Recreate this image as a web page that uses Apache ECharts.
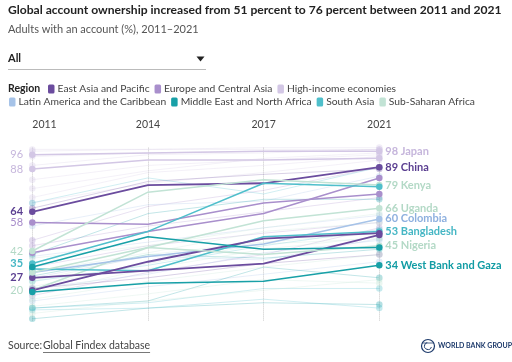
<!DOCTYPE html>
<html><head><meta charset="utf-8">
<script src="https://cdn.jsdelivr.net/npm/echarts@6/dist/echarts.min.js"></script>
<style>html,body{margin:0;padding:0;background:#fff}#c{width:512px;height:362px}</style>
</head><body><div id="c"></div>
<script>
const FONT = 'Lato';
const years = ['2011', '2014', '2017', '2021'];
const regions = ['East Asia and Pacific', 'Europe and Central Asia', 'High-income economies',
  'Latin America and the Caribbean', 'Middle East and North Africa', 'South Asia', 'Sub-Saharan Africa'];
const regionColors = ['#6b4c9e', '#a98fcc', '#d3c7e5', '#a6c3e8', '#18a0a7', '#4fbfcb', '#c2e3d5'];

// Highlighted economies
const hlNames = ['Japan', 'United States', 'China', 'Ukraine', 'Turkey', 'Kenya', 'India', 'Uganda',
  'Colombia', 'Bangladesh', 'Indonesia', 'Philippines', 'Nigeria', 'Algeria', 'West Bank and Gaza'];
const hlRegion = [2, 2, 0, 1, 1, 6, 5, 6, 3, 5, 0, 0, 6, 4, 4];
const hlValues = [
  [96, 97, 98, 98],
  [88, 93, 93, 94],
  [64, 79, 80, 89],
  [41, 53, 63, 83],
  [58, 57, 69, 74],
  [42, 75, 82, 79],
  [35, 53, 80, 78],
  [20, 44, 59, 66],
  [30, 39, 46, 60],
  [32, 31, 50, 53],
  [20, 36, 49, 52],
  [27, 31, 35, 51],
  [30, 44, 40, 45],
  [33, 50, 43, 44],
  [19, 24, 25, 34]
];
const hlStartLabel = [true, true, true, false, true, true, true, true, false, false, false, true, false, false, false];
const hlEndLabel = [true, false, true, false, false, true, false, true, true, true, false, false, true, false, true];
const hlLabelColors = ['#c6b6dc', '#c6b6dc', '#5b3f91', '#a98fcc', '#a68bc9', '#b3d9c6', '#45b6c4', '#b3d9c6',
  '#8eb0df', '#45b6c4', '#5b3f91', '#5b3f91', '#b3d9c6', '#18a0a7', '#129ca4'];
const hlBold = [false, false, true, false, false, false, true, false, true, true, false, true, false, false, true];

// Background economies (faint)
const bgRegion = [2, 2, 2, 2, 2, 2, 2, 2, 1, 1, 1, 1, 3, 3, 3, 3, 3, 0, 0, 4, 4, 4, 4, 5, 5, 5, 5, 6, 6, 6, 6, 6, 6, 6, 6];
const bgValues = [
  [99, 99, 100, 100], [98, 99, 99, 99], [95, 97, 98, 99], [90, 96, 97, 99],
  [82, 90, 93, 96], [77, 87, 94, 97], [72, 86, 90, 95], [69, 80, 86, 93],
  [48, 67, 76, 89], [45, 56, 64, 72], [33, 45, 52, 58], [17, 30, 40, 55],
  [56, 68, 70, 84], [39, 47, 55, 62], [27, 39, 37, 49], [21, 29, 41, 48], [14, 22, 29, 36],
  [66, 81, 85, 88], [21, 27, 35, 40],
  [10, 14, 33, 27], [4, 10, 13, 12], [40, 63, 71, 71], [28, 40, 38, 43],
  [10, 13, 21, 21], [69, 83, 74, 89], [25, 34, 45, 54], [9, 10, 15, 10],
  [25, 40, 47, 52], [22, 35, 46, 49], [15, 25, 33, 40], [30, 41, 53, 58],
  [7, 14, 20, 26], [11, 18, 26, 24], [38, 45, 55, 63], [18, 32, 43, 50]
];

const legendRow = [0, 0, 0, 1, 1, 1, 1];

const ctx = document.createElement('canvas').getContext('2d');
function textW(t, font) { ctx.font = font; return ctx.measureText(t).width; }

const ends = (v, p) => (p.dataIndex === 0 || p.dataIndex === years.length - 1) ? 6.5 : 0;

const series = [];
bgValues.forEach((vals, i) => {
  const col = regionColors[bgRegion[i]];
  series.push({
    type: 'line', name: 'bg' + i, data: vals, silent: true, z: 1,
    symbol: 'circle', symbolSize: ends,
    lineStyle: { color: col, width: 1, opacity: 0.26 },
    itemStyle: { color: col, opacity: 0.32 },
    emphasis: { disabled: true }
  });
});
hlValues.forEach((vals, i) => {
  const col = regionColors[hlRegion[i]];
  const lc = hlLabelColors[i];
  const data = vals.map((v, j) => (j === 0 && hlStartLabel[i]) ? {
    value: v,
    label: { show: true, position: 'left', distance: 6, formatter: '{c}', color: lc,
      fontSize: 11, fontFamily: FONT, fontWeight: hlBold[i] ? 'bold' : 'normal' }
  } : v);
  series.push({
    type: 'line', name: hlNames[i], data: data, z: 5,
    symbol: 'circle', symbolSize: ends,
    lineStyle: { color: col, width: hlRegion[i] === 0 ? 1.8 : 1.5 },
    itemStyle: { color: col },
    emphasis: { disabled: true },
    endLabel: {
      show: hlEndLabel[i], distance: 6, color: lc, fontSize: 11, fontFamily: FONT, fontWeight: 'bold',
      formatter: p => p.value + ' ' + p.seriesName
    }
  });
});

const srcFont = '10.5px ' + FONT;
const srcW = textW('Global Findex database', srcFont);
const graphics = [
  { type: 'text', left: 8, top: 4, style: { text: 'Global account ownership increased from 51 percent to 76 percent between 2011 and 2021',
    font: 'bold 12.1px ' + FONT, fill: '#222' } },
  { type: 'text', left: 8, top: 24, style: { text: 'Adults with an account (%), 2011\u20132021',
    font: '11px ' + FONT, fill: '#555' } },
  { type: 'text', left: 8, top: 53, style: { text: 'All', font: 'bold 11px ' + FONT, fill: '#222' } },
  { type: 'polygon', shape: { points: [[196.5, 56.5], [204.5, 56.5], [200.5, 61.5]] }, style: { fill: '#222' } },
  { type: 'line', shape: { x1: 8, y1: 69.5, x2: 206, y2: 69.5 }, style: { stroke: '#bbb', lineWidth: 1 } },
  { type: 'text', left: 8, top: 83, style: { text: 'Region', font: 'bold 10.5px ' + FONT, fill: '#222' } },
  { type: 'text', left: 8, top: 340, style: { text: 'Source: ', font: srcFont, fill: '#444' } },
  { type: 'text', left: 43, top: 340, style: { text: 'Global Findex database', font: srcFont, fill: '#444' } },
  { type: 'line', shape: { x1: 43, y1: 352.5, x2: 43 + srcW, y2: 352.5 }, style: { stroke: '#555', lineWidth: 0.8 } },
  // World Bank logo
  { type: 'circle', shape: { cx: 428, cy: 346, r: 6.5 }, style: { fill: 'none', stroke: '#1d3a6b', lineWidth: 1.2 } },
  { type: 'arc', shape: { cx: 428, cy: 346, r: 3.5, startAngle: 0.3, endAngle: 4.5 }, style: { fill: 'none', stroke: '#1d3a6b', lineWidth: 1 } },
  { type: 'line', shape: { x1: 422, y1: 343, x2: 434, y2: 343 }, style: { stroke: '#1d3a6b', lineWidth: 0.8 } },
  { type: 'text', left: 438, top: 342.5, style: { text: 'WORLD BANK GROUP', font: 'bold 7px ' + FONT, fill: '#1d3a6b' } }
];
const legFont = '10.3px ' + FONT;
const rowStart = [48, 9];
const cursor = rowStart.slice();
regions.forEach((r, i) => {
  const row = legendRow[i];
  const y = row === 0 ? 84.5 : 97.5;
  const x = cursor[row];
  graphics.push({ type: 'rect', shape: { x: x, y: y, width: 6.5, height: 9, r: 1.5 }, style: { fill: regionColors[i] } });
  graphics.push({ type: 'text', left: x + 9.5, top: y - 0.5, style: { text: r, font: legFont, fill: '#444' } });
  cursor[row] = x + 9.5 + textW(r, legFont) + 5;
});

const chart = echarts.init(document.getElementById('c'));
chart.setOption({
  animation: false,
  textStyle: { fontFamily: FONT },
  grid: { left: 32.3, right: 132.7, top: 147.6, bottom: 41.4 },
  xAxis: {
    type: 'category', data: years, boundaryGap: false, position: 'top',
    axisLine: { show: false }, axisTick: { show: false },
    axisLabel: { color: '#444', fontSize: 10.5, fontFamily: FONT, margin: 17, alignMinLabel: 'left' },
    splitLine: { show: true, lineStyle: { type: 'dotted', color: '#c8c8c8', width: 1 } }
  },
  yAxis: { type: 'value', min: 3, max: 100, show: false },
  series: series,
  graphic: graphics
});
</script></body></html>
